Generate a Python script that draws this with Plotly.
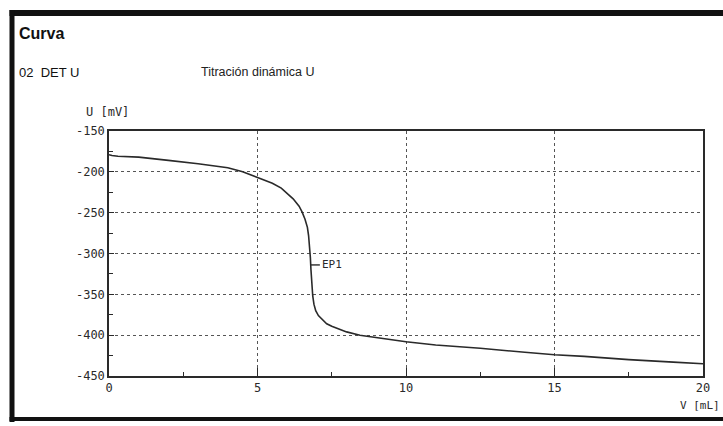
import plotly.graph_objects as go

volume_ml = [0, 0.1, 0.3, 1, 2, 3, 4, 4.5, 5, 5.5, 5.8, 6, 6.2, 6.4, 6.5, 6.6, 6.68, 6.72,
             6.75, 6.78, 6.8, 6.83, 6.86, 6.9, 6.96, 7.05, 7.15, 7.33, 7.5, 7.7, 8.0, 8.45,
             9, 10, 11, 12.5, 14, 15, 16, 17.5, 19, 20]
potential_mv = [-179, -180, -181, -182, -186, -190, -195, -200, -207, -214, -220, -226, -233,
                -242, -249, -258, -268, -278, -290, -305, -320, -340, -352, -362, -370, -376,
                -380, -386, -389, -392, -396, -400, -403, -408, -412, -416, -421, -424, -426,
                -430, -433, -435]

ep_volume = 6.8
ep_potential = -314
ep_label = "EP1"

x_ticks = [0, 5, 10, 15, 20]
y_ticks = [-150, -200, -250, -300, -350, -400, -450]

mono = "DejaVu Sans Mono"
ink = "#2a2a2a"

W, H = 723, 426
L, R, T, B = 109, 703, 131, 376  # plot area in page pixels
ml, mr, mt, mb = L, W - R, T, H - B
pw, ph = R - L, B - T


def px(x):
    return (x - L) / pw


def py(y):
    return (B - y) / ph


def frame_line(x0, y0, x1, y1, w):
    return dict(type="line", xref="paper", yref="paper",
                x0=px(x0), y0=py(y0), x1=px(x1), y1=py(y1),
                line=dict(color="#111", width=w))


fig = go.Figure()
fig.add_trace(go.Scatter(x=volume_ml, y=potential_mv, mode="lines",
                         line=dict(color=ink, width=1.6),
                         showlegend=False, hoverinfo="skip"))
fig.add_trace(go.Scatter(x=[ep_volume, ep_volume + 0.3], y=[ep_potential, ep_potential],
                         mode="lines", line=dict(color=ink, width=1.4),
                         showlegend=False, hoverinfo="skip"))
fig.add_annotation(x=ep_volume + 0.3, y=ep_potential, text=ep_label, showarrow=False,
                   xanchor="left", yanchor="middle", xshift=0,
                   font=dict(family=mono, size=11, color=ink))

fig.update_xaxes(range=[0, 20], tickvals=x_ticks, ticktext=[str(v) for v in x_ticks],
                 showline=True, linecolor=ink, linewidth=1.5, mirror=True,
                 ticks="inside", ticklen=8, tickcolor=ink, tickwidth=1.3,
                 minor=dict(dtick=2.5, ticks="inside", ticklen=4, tickcolor=ink, showgrid=False),
                 showgrid=True, gridcolor="#555", griddash="dot", gridwidth=1,
                 zeroline=False, tickfont=dict(family=mono, size=12, color=ink))
fig.update_yaxes(range=[-450, -150], tickvals=y_ticks, ticktext=[str(v) for v in y_ticks],
                 showline=True, linecolor=ink, linewidth=1.5, mirror=True,
                 ticks="inside", ticklen=5, tickcolor=ink, tickwidth=1.3,
                 minor=dict(dtick=25, ticks="inside", ticklen=4, tickcolor=ink, showgrid=False),
                 showgrid=True, gridcolor="#555", griddash="dot", gridwidth=1,
                 zeroline=False, tickfont=dict(family=mono, size=12, color=ink))

fig.update_layout(
    width=W, height=H,
    margin=dict(l=ml, r=mr, t=mt, b=mb, autoexpand=False),
    paper_bgcolor="white", plot_bgcolor="white",
    shapes=[
        frame_line(9.5, 13, 760, 13, 6),
        frame_line(12, 10, 12, 422, 5),
        frame_line(9.5, 419, 760, 419, 4),
    ],
    annotations=list(fig.layout.annotations) + [
        dict(xref="paper", yref="paper", x=px(17), y=py(33), text="<b>Curva</b>",
             showarrow=False, xanchor="left", yanchor="middle",
             font=dict(family="Liberation Sans", size=16, color="#111")),
        dict(xref="paper", yref="paper", x=px(17), y=py(72), text="02  DET U",
             showarrow=False, xanchor="left", yanchor="middle",
             font=dict(family="Liberation Sans", size=13, color="#111")),
        dict(xref="paper", yref="paper", x=px(199), y=py(72), text="Titración dinámica U",
             showarrow=False, xanchor="left", yanchor="middle",
             font=dict(family="Liberation Sans", size=12.5, color="#222")),
        dict(xref="paper", yref="paper", x=px(84), y=py(112), text="U [mV]",
             showarrow=False, xanchor="left", yanchor="middle",
             font=dict(family=mono, size=12, color=ink)),
        dict(xref="paper", yref="paper", x=px(722), y=py(405), text="V [mL]",
             showarrow=False, xanchor="right", yanchor="middle",
             font=dict(family=mono, size=11, color=ink)),
    ],
)

fig.write_html(
    "out.html",
    config={"displayModeBar": False},
    post_script="document.body.style.margin='0';document.body.style.overflow='hidden';",
)
